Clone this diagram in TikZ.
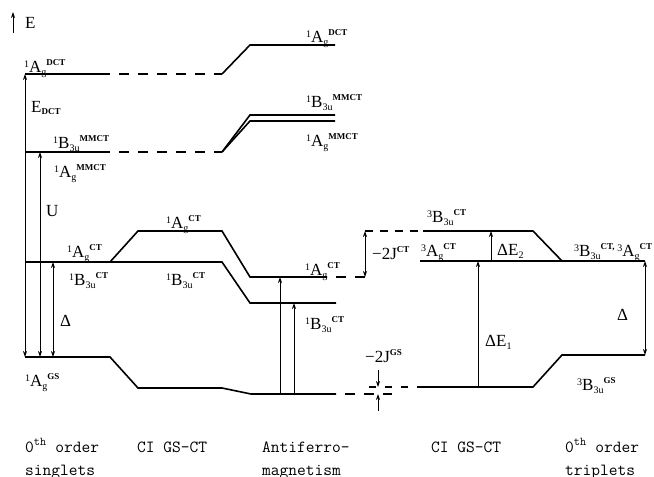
\documentclass[tikz,border=0pt]{standalone}
\usepackage{fontspec}
\setmainfont{Liberation Serif}
\usepackage{tikz}
\usetikzlibrary{arrows.meta,positioning,calc}

\newcommand{\stlab}[4]{\raisebox{5pt}{\fontsize{10}{10}\selectfont#1}#2\raisebox{-3pt}{\fontsize{10}{10}\selectfont#3}\raisebox{7pt}{\fontsize{9}{9}\selectfont\bfseries#4}}

\begin{document}
\begin{tikzpicture}[x=1pt,y=-1pt,
  lev/.style={line width=1.6pt},
  dlev/.style={line width=1.6pt,dash pattern=on 10pt off 9pt,dash phase=10pt},
  arr/.style={-{Stealth[length=6pt,width=4pt]},line width=0.8pt},
  darr/.style={{Stealth[length=6pt,width=4pt]}-{Stealth[length=6pt,width=4pt]},line width=0.8pt},
  lab/.style={inner sep=0pt,anchor=base west,font=\fontsize{17}{19}\selectfont},
  coltext/.style={inner sep=0pt,anchor=base west,font=\fontsize{17}{20}\selectfont\ttfamily}
]
\useasboundingbox (0,0) rectangle (654,477);

% energy axis
\coordinate (Ebot) at (13,33);
\coordinate (Etop) at (13,12);
\draw[arr] (Ebot) -- (Etop);
\node[lab] (Elab) at (25,28) {E};

% singlet levels
\draw[lev] (25,74) -- (110,74);
\draw[dlev] (110,74) -- (222,74);
\draw[lev] (222,74) -- (250,45) -- (335,45);
\draw[lev] (25,152) -- (110,152);
\draw[dlev] (110,152) -- (222,152);
\draw[lev] (222,152) -- (250,115) -- (335,115);
\draw[lev] (222,152) -- (250,121) -- (335,121);
\draw[lev] (25,262) -- (222,262) -- (250,303) -- (336,303);
\draw[lev] (110,262) -- (138,231) -- (222,231) -- (250,277) -- (327,277);
\draw[dlev] (327,277) -- (365,277);
\draw[lev] (25,357) -- (110,357) -- (138,388) -- (222,388) -- (251,394) -- (336,394);
\draw[dlev] (336,394) -- (392,394);

% triplet levels
\draw[lev,dash pattern=on 8pt off 7pt] (365,231) -- (423,231);
\draw[lev] (423,231) -- (533,231) -- (562,261);
\draw[lev] (420,261) -- (645,261);
\draw[lev,dash pattern=on 7pt off 9pt] (369,387) -- (422,387);
\draw[lev] (422,387) -- (533,387) -- (562,355) -- (645,355);

% gap arrows
\coordinate (dctL) at (25,74);
\coordinate (gsL) at (25,357);
\coordinate (mmctL) at (40,152);
\coordinate (gsU) at (40,357);
\coordinate (ctL) at (53,262);
\coordinate (gsD) at (53,357);
\draw[darr] (dctL) -- (gsL);
\draw[darr] (mmctL) -- (gsU);
\draw[darr] (ctL) -- (gsD);
\coordinate (afA) at (280,277);
\coordinate (afAgs) at (280,394);
\coordinate (afB) at (294,303);
\coordinate (afBgs) at (294,394);
\draw[arr] (afAgs) -- (afA);
\draw[arr] (afBgs) -- (afB);
\coordinate (jctlo) at (365,277);
\coordinate (jcthi) at (365,231);
\draw[darr] (jctlo) -- (jcthi);
\coordinate (jgsa) at (378,370);
\coordinate (jgsb) at (378,387);
\coordinate (jgsc) at (378,411);
\coordinate (jgsd) at (378,394);
\draw[arr] (jgsa) -- (jgsb);
\draw[arr] (jgsc) -- (jgsd);
\coordinate (eonelo) at (478,387);
\coordinate (eonehi) at (478,261);
\draw[arr] (eonelo) -- (eonehi);
\coordinate (etwolo) at (491,261);
\coordinate (etwohi) at (491,231);
\draw[arr] (etwolo) -- (etwohi);
\coordinate (trhi) at (645,261);
\coordinate (trlo) at (645,355);
\draw[darr] (trhi) -- (trlo);

% level labels
\node[lab] (dctS) at (24,72) {\stlab{1}{A}{g}{DCT}};
\node[lab] (dctR) at (306,42) {\stlab{1}{A}{g}{DCT}};
\node[lab] (edct) at (31,112) {E\raisebox{-2pt}{\fontsize{9}{9}\selectfont\bfseries DCT}};
\node[lab] (mmBS) at (53,148) {\stlab{1}{B}{3u}{MMCT}};
\node[lab] (mmAS) at (54,177) {\stlab{1}{A}{g}{MMCT}};
\node[lab] (mmBR) at (306,107) {\stlab{1}{B}{3u}{MMCT}};
\node[lab] (mmAR) at (306,146) {\stlab{1}{A}{g}{MMCT}};
\node[lab] (ulab) at (46,216) {U};
\node[lab] (ctAS) at (67,257) {\stlab{1}{A}{g}{CT}};
\node[lab] (ctBS) at (69,285) {\stlab{1}{B}{3u}{CT}};
\node[lab] (ctAM) at (166,228) {\stlab{1}{A}{g}{CT}};
\node[lab] (ctBM) at (166,285) {\stlab{1}{B}{3u}{CT}};
\node[lab] (delS) at (60,326) {Δ};
\node[lab] (gsS) at (25,386) {\stlab{1}{A}{g}{GS}};
\node[lab] (afAl) at (305,275) {\stlab{1}{A}{g}{CT}};
\node[lab] (afBl) at (305,329) {\stlab{1}{B}{3u}{CT}};
\node[lab] (jctl) at (372,259) {−2J\raisebox{7pt}{\fontsize{9}{9}\selectfont\bfseries CT}};
\node[lab] (jgsl) at (365,362) {−2J\raisebox{7pt}{\fontsize{9}{9}\selectfont\bfseries GS}};
\node[lab] (tB) at (427,222) {\stlab{3}{B}{3u}{CT}};
\node[lab] (tA) at (421,256) {\stlab{3}{A}{g}{CT}};
\node[lab] (detwo) at (497,255) {ΔE\raisebox{-3pt}{\fontsize{10}{10}\selectfont 2}};
\node[lab] (tBA) at (574,256) {\stlab{3}{B}{3u}{CT,}\,\stlab{3}{A}{g}{CT}};
\node[lab] (deone) at (485,346) {ΔE\raisebox{-3pt}{\fontsize{10}{10}\selectfont 1}};
\node[lab] (delT) at (617,320) {Δ};
\node[lab] (tGS) at (577,390) {\stlab{3}{B}{3u}{GS}};

% column captions
\node[coltext] (csa) at (25,452) {0\textsuperscript{th} order};
\node[coltext] (csb) at (25,475) {singlets};
\node[coltext] (cia) at (137,452) {CI GS-CT};
\node[coltext] (afa) at (262,452) {Antiferro-};
\node[coltext] (afb) at (262,475) {magnetism};
\node[coltext] (cib) at (431,452) {CI GS-CT};
\node[coltext] (cta) at (565,452) {0\textsuperscript{th} order};
\node[coltext] (ctb) at (565,475) {triplets};
\end{tikzpicture}
\end{document}
